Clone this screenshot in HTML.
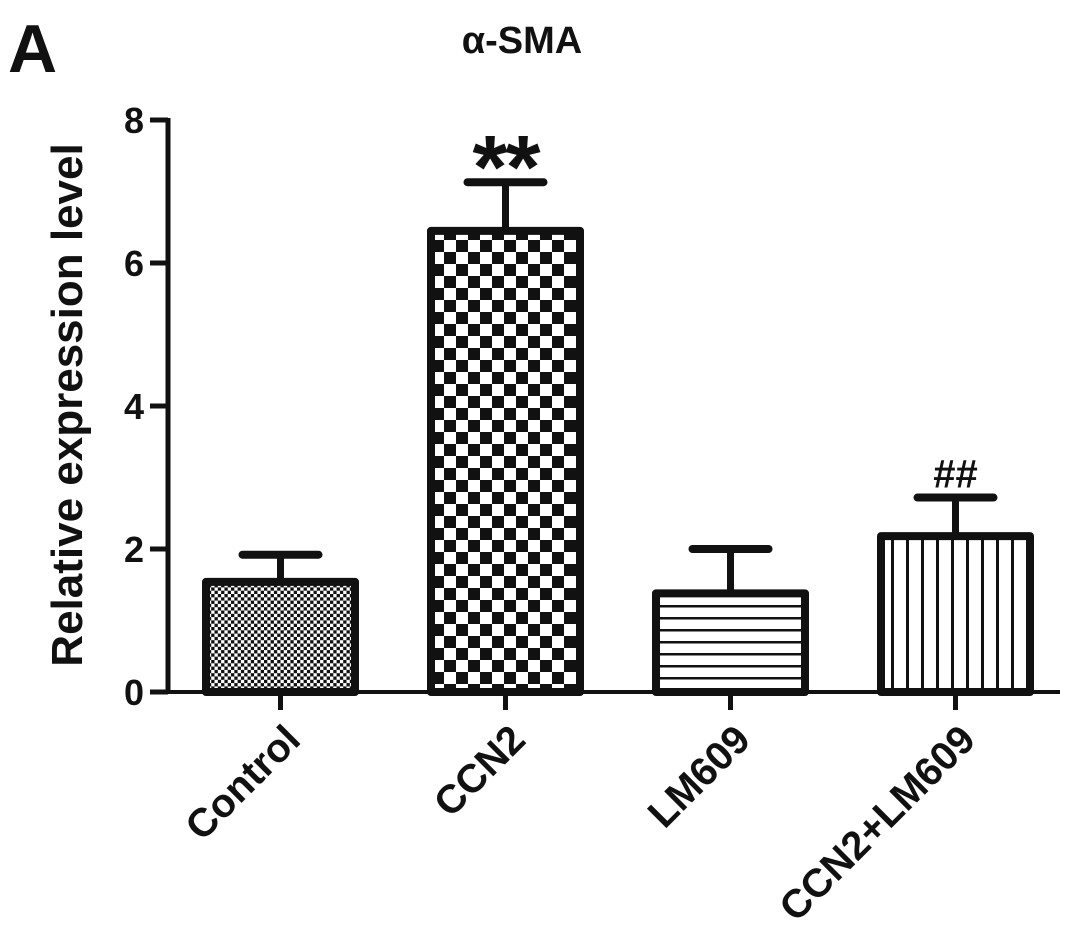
<!DOCTYPE html>
<html><head><meta charset="utf-8"><style>
body{margin:0;background:#fff}
text{font-family:"Liberation Sans",Arial,sans-serif;font-weight:bold;fill:#111}
</style></head><body>
<svg id="chart" width="1087" height="943" viewBox="0 0 1087 943" xmlns="http://www.w3.org/2000/svg">
<defs>
<pattern id="chkS" width="6.6" height="6.6" patternUnits="userSpaceOnUse"><rect width="6.6" height="6.6" fill="#fff"/><rect width="3.3" height="3.3" fill="#111"/><rect x="3.3" y="3.3" width="3.3" height="3.3" fill="#111"/></pattern>
<pattern id="chkL" width="24" height="24" patternUnits="userSpaceOnUse"><rect width="24" height="24" fill="#fff"/><rect width="12" height="12" fill="#111"/><rect x="12" y="12" width="12" height="12" fill="#111"/></pattern>
<pattern id="hor" width="10" height="12" patternUnits="userSpaceOnUse"><rect width="10" height="12" fill="#fff"/><rect y="5" width="10" height="2.5" fill="#111"/></pattern>
<pattern id="ver" width="15" height="10" patternUnits="userSpaceOnUse"><rect width="15" height="10" fill="#fff"/><rect x="6" width="3" height="10" fill="#111"/></pattern>
</defs>
<text x="8" y="72" font-size="68">A</text>
<text x="522" y="53" font-size="38" text-anchor="middle">α-SMA</text>
<text transform="translate(82,405) rotate(-90)" font-size="44" text-anchor="middle">Relative expression level</text>
<g id="plot"></g>
</svg>
<script>
const categories=["Control","CCN2","LM609","CCN2+LM609"];
const values=[1.54,6.45,1.38,2.18];
const errors=[0.38,0.68,0.62,0.54];
const yTicks=[0,2,4,6,8];
const annotations=["","**","","##"];
const fills=["url(#chkS)","url(#chkL)","url(#hor)","url(#ver)"];
const ns="http://www.w3.org/2000/svg";
const g=document.getElementById('plot');
const y0=692,pxPer=71.5,axX=168;
const yS=v=>y0-v*pxPer;
const xC=i=>280.5+i*225;
function mk(t,a){const e=document.createElementNS(ns,t);for(const k in a)e.setAttribute(k,a[k]);g.appendChild(e);return e;}
let e;
e=mk('line',{x1:axX,y1:yS(8)-2,x2:axX,y2:y0+2,stroke:'#111','stroke-width':5});


e=mk('line',{x1:axX,y1:y0,x2:1060,y2:y0,stroke:'#111','stroke-width':4});


yTicks.forEach(t=>{
 e=mk('line',{x1:axX-18,y1:yS(t),x2:axX,y2:yS(t),stroke:'#111','stroke-width':5});
 
 
 e=mk('text',{x:axX-24,y:yS(t)+13,'font-size':36,'text-anchor':'end'});e.textContent=t;
 
 
});
categories.forEach((c,i)=>{
 const x=xC(i),w=149,top=yS(values[i]);
 e=mk('line',{x1:x,y1:yS(values[i]+errors[i]),x2:x,y2:top,stroke:'#111','stroke-width':7});
 
 
 e=mk('line',{x1:x-38,y1:yS(values[i]+errors[i]),x2:x+38,y2:yS(values[i]+errors[i]),stroke:'#111','stroke-width':8,'stroke-linecap':'round'});
 
 
 e=mk('rect',{x:x-w/2,y:top,width:w,height:y0-top,fill:fills[i],stroke:'#111','stroke-width':8,'stroke-linejoin':'round'});
 
 
 e=mk('line',{x1:x,y1:y0,x2:x,y2:y0+18,stroke:'#111','stroke-width':5});
 
 
 e=mk('text',{transform:`translate(${x+22},${y0+50}) rotate(-45)`,'font-size':40,'text-anchor':'end'});e.textContent=c;
 
 
 if(annotations[i]){
  const big=annotations[i]==='**';
  const cy=yS(values[i]+errors[i]);
  e=mk('text',{x:x,y:big?cy+16:cy-10,'font-size':big?90:40,'text-anchor':'middle','letter-spacing':big?-2:0});e.textContent=annotations[i];
  
  
 }
});
</script>
</body></html>
